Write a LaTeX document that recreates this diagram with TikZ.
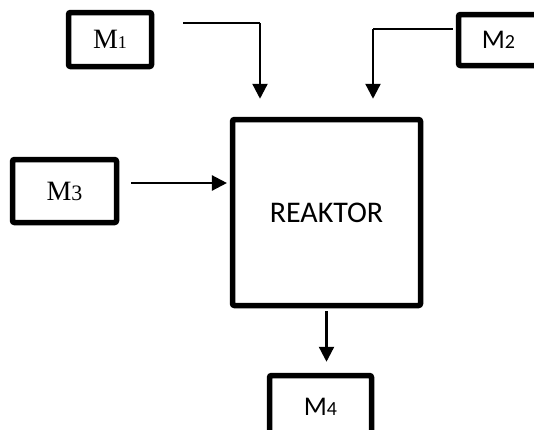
\documentclass[tikz,border=0pt]{standalone}
\usepackage{fontspec}
\setmainfont{Liberation Serif}
\newfontfamily\calfont{Carlito}
\usetikzlibrary{arrows.meta,positioning,calc}

\newcommand\idx[2]{{\fontsize{#1}{#1}\selectfont #2}}

\begin{document}
\begin{tikzpicture}[x=1pt, y=-1pt,
  stream/.style={draw, line width=5.5pt, rounded corners=2pt, inner sep=0pt},
  serifname/.style={font=\fontsize{28}{30}\selectfont},
  sansname/.style={font=\calfont\fontsize{27}{30}\selectfont},
  reactor/.style={draw, line width=5.5pt, rounded corners=2pt, minimum width=188pt, minimum height=186pt, font=\calfont\fontsize{30}{32}\selectfont},
  line/.style={-{Triangle[length=15pt,width=15pt]}, line width=2.3pt},
  lead/.style={line width=1.2pt}
]
\useasboundingbox (0,0) rectangle (534,429);

\node[reactor] (reaktor) at (326.5,212.5) {REAKTOR};
\node[stream, serifname, minimum width=83pt, minimum height=54pt] (m1) at (110,39.5) {M\idx{18}{1}};
\node[stream, sansname, minimum width=80pt, minimum height=51pt] (m2) at (498.5,40) {M\idx{20}{2}};
\node[stream, serifname, minimum width=104pt, minimum height=63pt] (m3) at (64.5,191) {M\idx{22}{3}};
\node[stream, sansname, minimum width=102pt, minimum height=63pt] (m4) at (320.5,407) {M\idx{20}{4}};

% feed lines above the reactor
\coordinate (m1a) at ($(m1.east)+(29,-16.5)$);
\coordinate (m1k) at ($(reaktor.north)+(-66.5,0)$);
\coordinate (m2a) at ($(m2.west)+(-3,-11)$);
\coordinate (m2k) at ($(reaktor.north)+(46.5,0)$);
\coordinate (m3a) at ($(m3.east)+(0,-8)$);

\draw[lead] (m1a) -- (m1a -| m1k);
\draw[line, shorten >=18pt] (m1a -| m1k) -- (m1k);
\draw[lead] (m2a) -- (m2a -| m2k);
\draw[line, shorten >=18pt] (m2a -| m2k) -- (m2k);

\draw[line, shorten <=12pt, shorten >=2.8pt] (m3a) -- (m3a -| reaktor.west);
\draw[line, shorten <=2.8pt, shorten >=11pt] (reaktor.south) -- (reaktor.south |- m4.north);
\end{tikzpicture}
\end{document}
